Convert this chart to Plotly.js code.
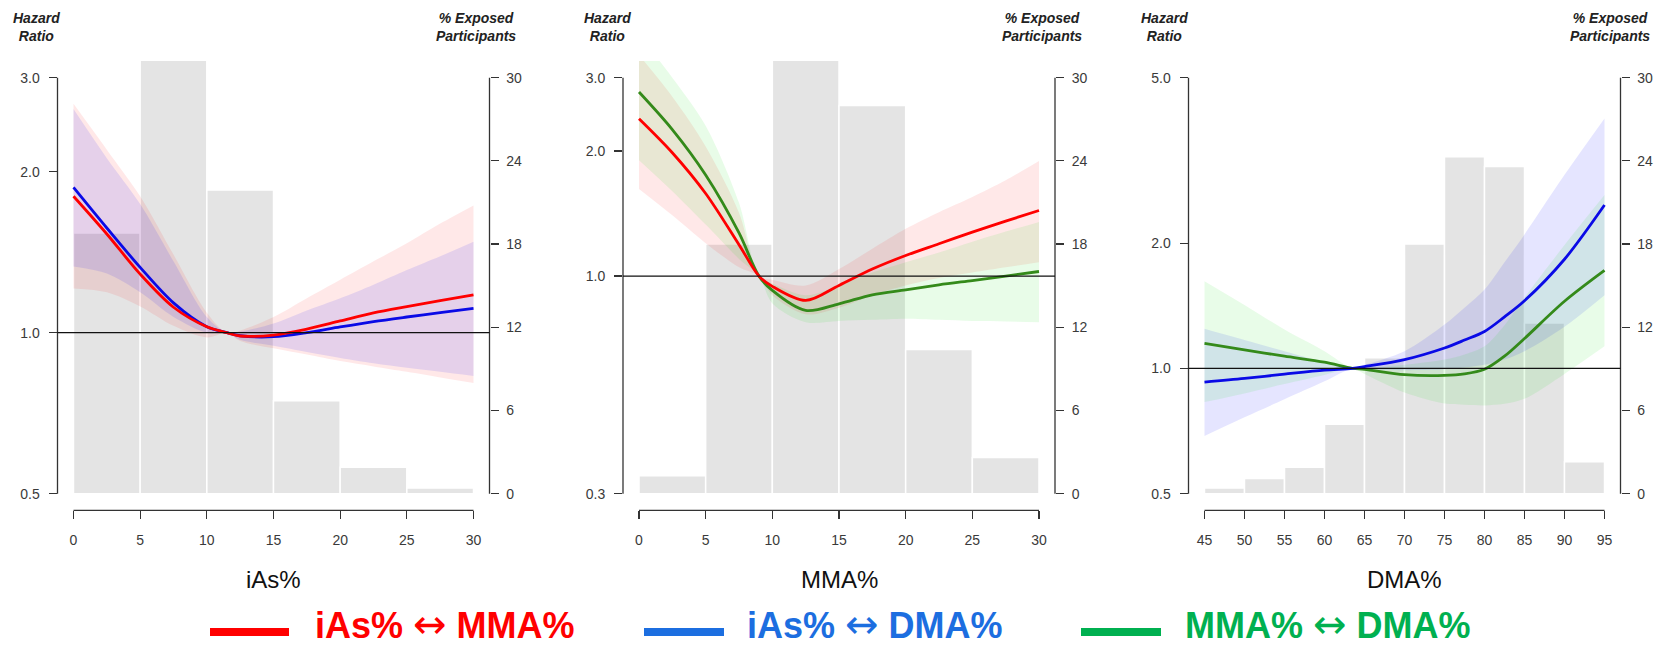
<!DOCTYPE html>
<html><head><meta charset="utf-8">
<script src="https://cdn.plot.ly/plotly-3.0.1.min.js"></script>
<style>html,body{margin:0;padding:0;background:#fff;} #chart{width:1659px;height:649px;}</style>
</head><body><div id="chart"></div>
<script>
// ================= DATA =================
// Panel 1 : iAs%
const iasBinCenters = [2.5, 7.5, 12.5, 17.5, 22.5, 27.5];
const iasExposedPct = [18.8, 50.3, 21.9, 6.7, 1.9, 0.4];
const iasX = [0, 2.5, 5, 7.5, 10, 11.5, 12.5, 15, 17.5, 20, 22.5, 25, 27.5, 30];
const iasMmaHR_onIas = [1.80, 1.53, 1.287, 1.116, 1.026, 1.0, 0.986, 0.99, 1.016, 1.052, 1.089, 1.119, 1.148, 1.177];
const iasMmaHi_onIas = [2.68, 2.20, 1.80, 1.40, 1.09, 1.0, 1.01, 1.07, 1.16, 1.256, 1.36, 1.47, 1.60, 1.73];
const iasMmaLo_onIas = [1.21, 1.19, 1.12, 1.03, 0.98, 1.0, 0.965, 0.935, 0.91, 0.885, 0.865, 0.845, 0.825, 0.805];
const iasDmaHR_onIas = [1.87, 1.57, 1.325, 1.137, 1.026, 1.0, 0.987, 0.983, 1.0, 1.025, 1.049, 1.07, 1.09, 1.111];
const iasDmaHi_onIas = [2.62, 2.12, 1.74, 1.36, 1.07, 1.0, 1.005, 1.04, 1.10, 1.16, 1.23, 1.31, 1.39, 1.48];
const iasDmaLo_onIas = [1.33, 1.29, 1.19, 1.07, 1.0, 1.0, 0.97, 0.945, 0.92, 0.897, 0.877, 0.86, 0.845, 0.83];

// Panel 2 : MMA%
const mmaBinCenters = [2.5, 7.5, 12.5, 17.5, 22.5, 27.5];
const mmaExposedPct = [1.3, 18.0, 39.7, 28.0, 10.4, 2.6];
const mmaX = [0, 2.5, 5, 7.5, 9, 10, 12.5, 15, 17.5, 20, 22.5, 25, 27.5, 30];
const iasMmaHR_onMma = [2.39, 1.98, 1.58, 1.19, 1.0, 0.945, 0.874, 0.95, 1.04, 1.121, 1.196, 1.276, 1.356, 1.438];
const iasMmaHi_onMma = [3.4, 2.7, 2.05, 1.42, 1.0, 0.98, 0.95, 1.04, 1.164, 1.30, 1.425, 1.55, 1.70, 1.89];
const iasMmaLo_onMma = [1.62, 1.40, 1.20, 1.05, 1.0, 0.90, 0.81, 0.84, 0.90, 0.95, 0.99, 1.02, 1.05, 1.08];
const mmaDmaHR_onMma = [2.77, 2.25, 1.75, 1.27, 1.0, 0.924, 0.827, 0.858, 0.902, 0.927, 0.953, 0.976, 1.0, 1.026];
const mmaDmaHi_onMma = [3.8, 3.0, 2.3, 1.5, 1.0, 0.96, 0.90, 0.95, 1.02, 1.08, 1.14, 1.21, 1.28, 1.35];
const mmaDmaLo_onMma = [1.9, 1.6, 1.33, 1.1, 1.0, 0.86, 0.775, 0.78, 0.785, 0.79, 0.785, 0.78, 0.778, 0.775];

// Panel 3 : DMA%
const dmaBinCenters = [47.5, 52.5, 57.5, 62.5, 67.5, 72.5, 77.5, 82.5, 87.5, 92.5];
const dmaExposedPct = [0.4, 1.1, 1.9, 5.0, 9.8, 18.0, 24.3, 23.6, 12.3, 2.3];
const dmaX = [45, 50, 55, 60, 63.5, 65, 70, 75, 77.5, 80, 82.5, 85, 90, 95];
const iasDmaHR_onDma = [0.927, 0.946, 0.969, 0.991, 1.0, 1.01, 1.05, 1.12, 1.17, 1.227, 1.33, 1.454, 1.83, 2.47];
const iasDmaHi_onDma = [1.245, 1.17, 1.10, 1.035, 1.0, 1.02, 1.10, 1.275, 1.40, 1.547, 1.80, 2.10, 2.92, 3.99];
const iasDmaLo_onDma = [0.688, 0.763, 0.843, 0.931, 1.0, 0.995, 0.99, 0.995, 1.005, 1.02, 1.05, 1.10, 1.26, 1.50];
const mmaDmaHR_onDma = [1.148, 1.108, 1.07, 1.035, 1.0, 0.995, 0.966, 0.962, 0.970, 0.995, 1.07, 1.18, 1.45, 1.72];
const mmaDmaHi_onDma = [1.62, 1.42, 1.24, 1.10, 1.0, 1.0, 1.02, 1.05, 1.08, 1.13, 1.27, 1.48, 1.98, 2.61];
const mmaDmaLo_onDma = [0.83, 0.871, 0.917, 0.964, 1.0, 0.97, 0.875, 0.823, 0.818, 0.815, 0.822, 0.845, 0.97, 1.13];

// Ticks / labels
const xTicks12 = [0, 5, 10, 15, 20, 25, 30];
const xTicks3 = [45, 50, 55, 60, 65, 70, 75, 80, 85, 90, 95];
const pctTicks = [0, 6, 12, 18, 24, 30];
const hrTicks1 = [0.5, 1, 2, 3], hrLabels1 = ['0.5', '1.0', '2.0', '3.0'];
const hrTicks2 = [0.3, 1, 2, 3], hrLabels2 = ['0.3', '1.0', '2.0', '3.0'];
const hrTicks3 = [0.5, 1, 2, 5], hrLabels3 = ['0.5', '1.0', '2.0', '5.0'];
const hrReference = 1;
const axisTitles = ['iAs%', 'MMA%', 'DMA%'];
const leftAxisLabel = ['Hazard', 'Ratio'];
const rightAxisLabel = ['% Exposed', 'Participants'];
const seriesNames = ['iAs% \u2194 MMA%', 'iAs% \u2194 DMA%', 'MMA% \u2194 DMA%'];

// ================= STYLE / LAYOUT =================
const W = 1659, H = 649;
const FONT = 'Liberation Sans, Arial, sans-serif';
const lineCol = ['#ff0000', '#0a0ae6', '#348a1a'];
const bandCol = ['rgba(255,0,0,0.09)', 'rgba(0,0,255,0.10)', 'rgba(0,220,0,0.09)'];
const legCol = ['#ff0000', '#1c6ee0', '#00b050'];
const px = v => v / W, py = v => 1 - v / H;
const yDom = [py(510.3), py(61)];
const xDoms = [[px(57.5), px(489.5)], [px(623), px(1055)], [px(1188.5), px(1620.5)]];

const panels = [
  {x: iasX, bins: iasBinCenters, pct: iasExposedPct, xr: [-1.2, 31.2], xt: xTicks12,
   hrT: hrTicks1, hrL: hrLabels1,
   series: [
     {s: 1, y: iasDmaHR_onIas, lo: iasDmaLo_onIas, hi: iasDmaHi_onIas},
     {s: 0, y: iasMmaHR_onIas, lo: iasMmaLo_onIas, hi: iasMmaHi_onIas}],
   bandOrder: [1, 0],
   hrX: 36, pctX: 476},
  {x: mmaX, bins: mmaBinCenters, pct: mmaExposedPct, xr: [-1.2, 31.2], xt: xTicks12,
   hrT: hrTicks2, hrL: hrLabels2,
   series: [
     {s: 2, y: mmaDmaHR_onMma, lo: mmaDmaLo_onMma, hi: mmaDmaHi_onMma},
     {s: 0, y: iasMmaHR_onMma, lo: iasMmaLo_onMma, hi: iasMmaHi_onMma}],
   bandOrder: [1, 0],
   hrX: 607, pctX: 1042},
  {x: dmaX, bins: dmaBinCenters, pct: dmaExposedPct, xr: [43, 97], xt: xTicks3,
   hrT: hrTicks3, hrL: hrLabels3,
   series: [
     {s: 2, y: mmaDmaHR_onDma, lo: mmaDmaLo_onDma, hi: mmaDmaHi_onDma},
     {s: 1, y: iasDmaHR_onDma, lo: iasDmaLo_onDma, hi: iasDmaHi_onDma}],
   bandOrder: [1, 0],
   hrX: 1164, pctX: 1610}
];

const traces = [];
const layout = {
  width: W, height: H, margin: {l: 0, r: 0, t: 0, b: 0},
  paper_bgcolor: '#fff', plot_bgcolor: 'rgba(0,0,0,0)',
  showlegend: false, hovermode: false, barmode: 'overlay',
  font: {family: FONT, color: '#333'},
  shapes: [], annotations: []
};
const tickFont = {family: FONT, size: 14, color: '#3a3a3a'};
const axCol = '#333';
const bi = arr => arr.map(t => '<b><i>' + t + '</i></b>').join('<br>');

panels.forEach((p, i) => {
  const n = i + 1;
  const xa = n === 1 ? 'x' : 'x' + n;
  const yb = 'y' + (n === 1 ? '' : (2 * n - 1));
  const ya = 'y' + (2 * n);
  const xk = 'xaxis' + (n === 1 ? '' : n);
  const ybk = 'yaxis' + (n === 1 ? '' : (2 * n - 1));
  const yak = 'yaxis' + (2 * n);

  // histogram of exposed participants
  traces.push({type: 'bar', x: p.bins, y: p.pct, width: 5, xaxis: xa, yaxis: yb,
    marker: {color: '#e4e4e4', line: {color: '#ffffff', width: 1.5}}, hoverinfo: 'skip'});

  // confidence bands
  p.bandOrder.forEach(k => {
    const s = p.series[k];
    traces.push({type: 'scatter', mode: 'lines', x: p.x, y: s.lo, xaxis: xa, yaxis: ya,
      line: {width: 0, shape: 'spline', smoothing: 0.9}, hoverinfo: 'skip'});
    traces.push({type: 'scatter', mode: 'lines', x: p.x, y: s.hi, xaxis: xa, yaxis: ya,
      line: {width: 0, shape: 'spline', smoothing: 0.9}, fill: 'tonexty',
      fillcolor: bandCol[s.s], hoverinfo: 'skip'});
  });
  // HR curves
  p.series.forEach(s => {
    traces.push({type: 'scatter', mode: 'lines', x: p.x, y: s.y, xaxis: xa, yaxis: ya,
      name: seriesNames[s.s],
      line: {color: lineCol[s.s], width: 2.8, shape: 'spline', smoothing: 0.9}});
  });

  layout[xk] = {domain: xDoms[i], range: p.xr, anchor: yb, showgrid: false, zeroline: false,
    showline: false, ticks: 'outside', ticklen: 8, tickwidth: 1.3, tickcolor: axCol,
    tickvals: p.xt, tickfont: tickFont, ticklabelstandoff: 9, fixedrange: true};
  layout[ybk] = {domain: yDom, range: [-1.2, 31.2], anchor: xa, side: 'right', showgrid: false,
    zeroline: false, showline: false, ticks: 'outside', ticklen: 8, tickwidth: 1.3,
    tickcolor: axCol, tickvals: pctTicks, tickfont: tickFont, ticklabelstandoff: 5, fixedrange: true};
  const hrLo = p.hrT[0], hrHi = p.hrT[p.hrT.length - 1];
  const lgLo = Math.log10(hrLo), lgHi = Math.log10(hrHi);
  const ext = 0.04 * (lgHi - lgLo);
  layout[yak] = {type: 'log', overlaying: yb, anchor: xa, side: 'left', range: [lgLo - ext, lgHi + ext],
    showgrid: false, zeroline: false, showline: false, ticks: 'outside', ticklen: 8, tickwidth: 1.3,
    tickcolor: axCol, tickvals: p.hrT, ticktext: p.hrL, tickfont: tickFont, ticklabelstandoff: 6,
    fixedrange: true};

  // axis lines (R style, spanning first..last tick)
  const ln = {color: axCol, width: 1.3};
  layout.shapes.push({type: 'line', xref: xa + ' domain', yref: ya, x0: 0, x1: 0, y0: hrLo, y1: hrHi, line: ln});
  layout.shapes.push({type: 'line', xref: xa + ' domain', yref: yb, x0: 1, x1: 1,
    y0: pctTicks[0], y1: pctTicks[pctTicks.length - 1], line: ln});
  layout.shapes.push({type: 'line', xref: xa, yref: yb + ' domain', x0: p.xt[0], x1: p.xt[p.xt.length - 1],
    y0: 0, y1: 0, line: ln});
  // reference line HR = 1
  layout.shapes.push({type: 'line', xref: xa + ' domain', yref: ya, x0: 0, x1: 1,
    y0: hrReference, y1: hrReference, line: {color: '#111', width: 1.3}});

  // header labels
  layout.annotations.push({xref: 'paper', yref: 'paper', x: px(p.hrX), y: py(27), xanchor: 'center',
    yanchor: 'middle', showarrow: false, align: 'center', text: bi(leftAxisLabel),
    font: {family: FONT, size: 14, color: '#222'}});
  layout.annotations.push({xref: 'paper', yref: 'paper', x: px(p.pctX), y: py(27), xanchor: 'center',
    yanchor: 'middle', showarrow: false, align: 'center', text: bi(rightAxisLabel),
    font: {family: FONT, size: 14, color: '#222'}});
  // axis title
  layout.annotations.push({xref: xa + ' domain', yref: 'paper', x: 0.5, y: py(579), xanchor: 'center',
    yanchor: 'middle', showarrow: false, text: axisTitles[i],
    font: {family: FONT, size: 24, color: '#111'}});
});

// legend (sample lines + coloured labels)
const legLine = [[210, 289], [644, 724], [1081, 1161]];
const legText = [313, 745, 1183];
seriesNames.forEach((nm, k) => {
  const parts = nm.split('\u2194');
  const txt = '<b>' + parts[0] + '</b><span style="font-family:DejaVu Sans;font-weight:normal;font-size:40px">\u2194</span><b>' + parts[1] + '</b>';
  layout.shapes.push({type: 'line', xref: 'paper', yref: 'paper', x0: px(legLine[k][0]), x1: px(legLine[k][1]),
    y0: py(632), y1: py(632), line: {color: legCol[k], width: 8}});
  layout.annotations.push({xref: 'paper', yref: 'paper', x: px(legText[k]), y: 0, xanchor: 'left',
    yanchor: 'bottom', showarrow: false, text: txt,
    font: {family: FONT, size: 36, color: legCol[k]}});
});

Plotly.newPlot('chart', traces, layout, {staticPlot: true, displayModeBar: false});
</script>
</body></html>
